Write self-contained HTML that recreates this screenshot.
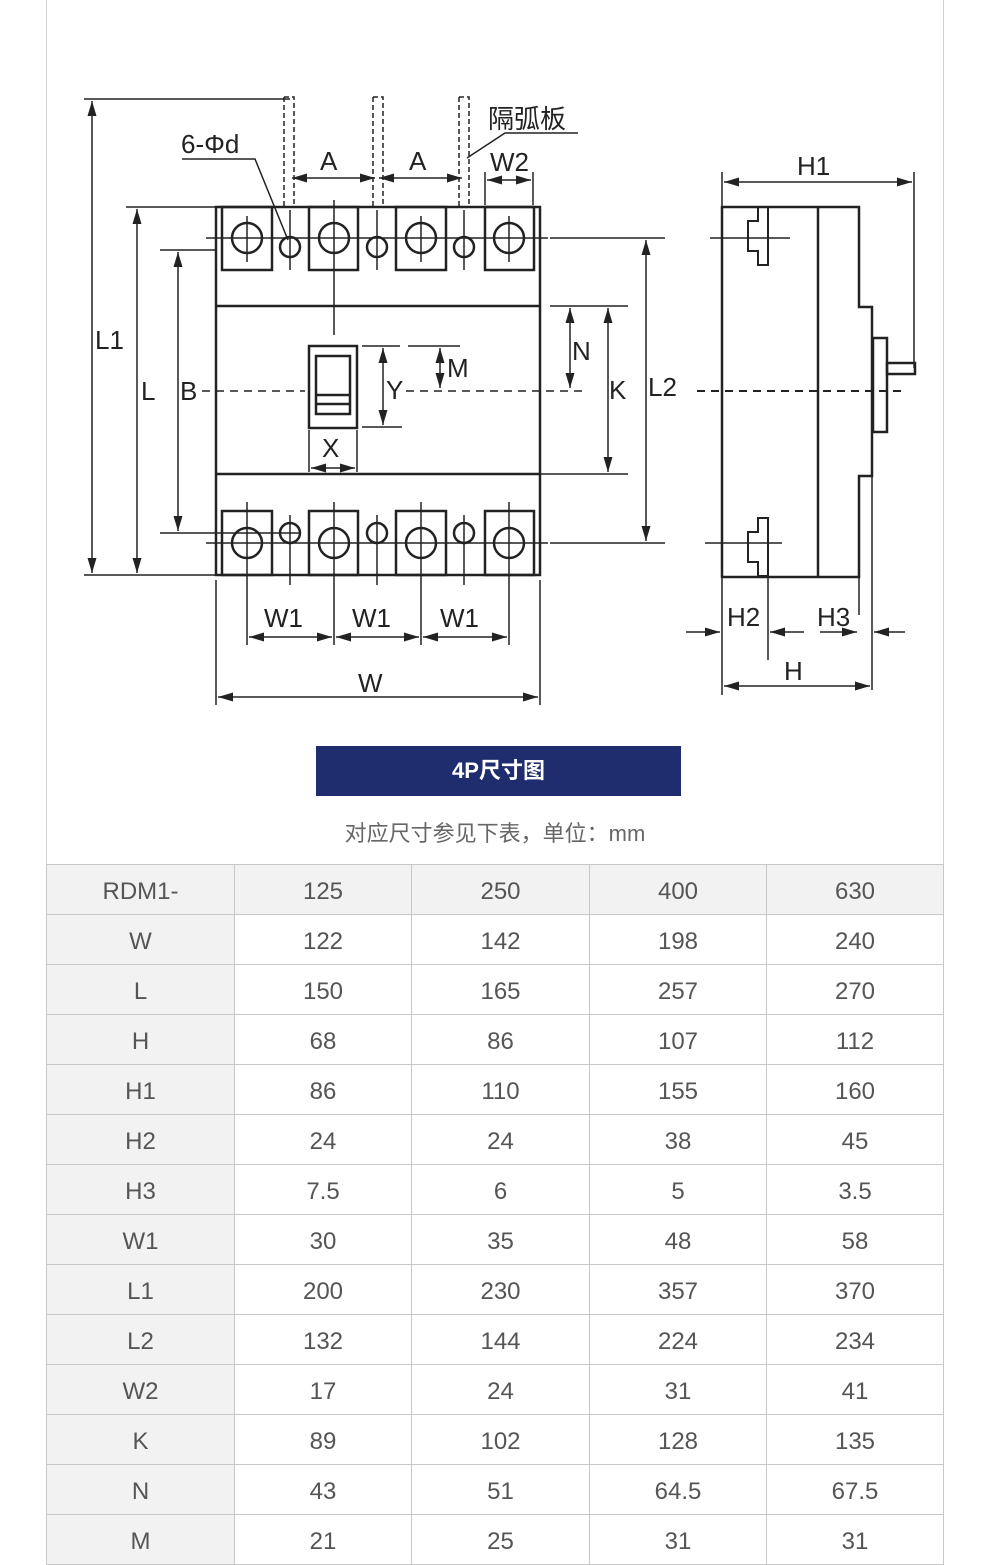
<!DOCTYPE html>
<html><head><meta charset="utf-8"><style>
body{margin:0;width:990px;height:1533px;background:#fff;overflow:hidden;position:relative;font-family:"Liberation Sans","Noto Sans CJK SC",sans-serif}
.vl{position:absolute;top:0;width:1px;height:1533px;background:#d0d0d0}
.btn{position:absolute;left:316px;top:746px;width:365px;height:50px;background:#1f2d6e;color:#fff;font-size:22px;text-align:center;line-height:50px;font-weight:bold}
.sub{position:absolute;left:0;width:990px;top:816px;text-align:center;font-size:22px;color:#666}
table{position:absolute;left:46px;top:864px;border-collapse:collapse;table-layout:fixed}
td{border:1px solid #c8c8c8;height:50px;text-align:center;font-size:24px;color:#555;padding:0;padding-top:4px;box-sizing:border-box}
td:first-child{background:#f2f2f2}
tr:first-child td{background:#f2f2f2}
</style></head><body>
<div class="vl" style="left:46px"></div><div class="vl" style="left:943px"></div>
<svg width="990" height="740" style="position:absolute;left:0;top:0" font-family="Liberation Sans, DejaVu Sans, sans-serif" font-size="26" fill="none" stroke="#222">
<defs><marker id="a" viewBox="0 0 10 6" refX="10" refY="3" markerWidth="10" markerHeight="6" orient="auto-start-reverse"><path d="M0,0L10,3L0,6z" fill="#222" stroke="none"/></marker></defs>
<g stroke-width="2.5">
<rect x="216" y="207" width="324" height="368"/>
<line x1="216" y1="306" x2="540" y2="306"/><line x1="216" y1="474" x2="540" y2="474"/>
<rect x="222" y="207" width="50" height="63"/><rect x="309" y="207" width="49" height="63"/><rect x="396" y="207" width="50" height="63"/><rect x="485" y="207" width="49" height="63"/>
<rect x="222" y="511" width="50" height="64"/><rect x="309" y="511" width="49" height="64"/><rect x="396" y="511" width="50" height="64"/><rect x="485" y="511" width="49" height="64"/>
<circle cx="247" cy="238" r="15"/><circle cx="334" cy="238" r="15"/><circle cx="421" cy="238" r="15"/><circle cx="509" cy="238" r="15"/>
<circle cx="290" cy="247" r="10"/><circle cx="377" cy="247" r="10"/><circle cx="464" cy="247" r="10"/>
<circle cx="247" cy="543" r="15"/><circle cx="334" cy="543" r="15"/><circle cx="421" cy="543" r="15"/><circle cx="509" cy="543" r="15"/>
<circle cx="290" cy="533" r="10"/><circle cx="377" cy="533" r="10"/><circle cx="464" cy="533" r="10"/>
<rect x="309" y="346" width="48" height="82"/><rect x="316" y="356" width="34" height="58"/><line x1="316" y1="395" x2="350" y2="395"/><line x1="316" y1="404" x2="350" y2="404"/>
<path d="M722,207H859V307H872V476H859V577H722Z"/><line x1="818" y1="207" x2="818" y2="577"/>
<rect x="873" y="338" width="14" height="94"/><rect x="887" y="363" width="28" height="11"/>
<path d="M748,221h10v-14h10v58h-10v-14h-10z" stroke-width="2"/><path d="M748,532h10v-14h10v58h-10v-14h-10z" stroke-width="2"/>
</g>
<g stroke-width="1.5">
<line x1="206" y1="238" x2="548" y2="238"/><line x1="206" y1="543" x2="548" y2="543"/>
<line x1="247" y1="216" x2="247" y2="262"/><line x1="334" y1="200" x2="334" y2="335"/><line x1="421" y1="216" x2="421" y2="262"/><line x1="509" y1="216" x2="509" y2="262"/>
<line x1="290" y1="210" x2="290" y2="270"/><line x1="377" y1="210" x2="377" y2="270"/><line x1="464" y1="210" x2="464" y2="270"/>
<line x1="247" y1="502" x2="247" y2="645"/><line x1="334" y1="502" x2="334" y2="645"/><line x1="421" y1="502" x2="421" y2="645"/><line x1="509" y1="502" x2="509" y2="645"/>
<line x1="290" y1="515" x2="290" y2="585"/><line x1="377" y1="515" x2="377" y2="585"/><line x1="464" y1="515" x2="464" y2="585"/>
<line x1="160" y1="533" x2="300" y2="533"/>
<path d="M284,97h10v110M284,97v110M373,97h10v110M373,97v110M459,97h10v110M459,97v110" stroke-dasharray="5,3"/>
<line x1="84" y1="99" x2="290" y2="99"/><line x1="126" y1="207" x2="216" y2="207"/><line x1="160" y1="250" x2="216" y2="250"/>
<line x1="84" y1="575" x2="216" y2="575"/>
<line x1="92" y1="101" x2="92" y2="573" marker-start="url(#a)" marker-end="url(#a)"/>
<line x1="137" y1="209" x2="137" y2="573" marker-start="url(#a)" marker-end="url(#a)"/>
<line x1="178" y1="252" x2="178" y2="531" marker-start="url(#a)" marker-end="url(#a)"/>
<line x1="292" y1="178" x2="375" y2="178" marker-start="url(#a)" marker-end="url(#a)"/>
<line x1="379" y1="178" x2="462" y2="178" marker-start="url(#a)" marker-end="url(#a)"/>
<line x1="485" y1="172" x2="485" y2="205"/><line x1="533" y1="172" x2="533" y2="205"/>
<line x1="487" y1="180" x2="531" y2="180" marker-start="url(#a)" marker-end="url(#a)"/>
<path d="M182,159H255L288,240"/><path d="M467,158L505,133H578"/>
<line x1="550" y1="306" x2="628" y2="306"/><line x1="540" y1="474" x2="628" y2="474"/><line x1="550" y1="238" x2="665" y2="238"/><line x1="550" y1="543" x2="665" y2="543"/>
<line x1="570" y1="308" x2="570" y2="388" marker-start="url(#a)" marker-end="url(#a)"/>
<line x1="608" y1="308" x2="608" y2="472" marker-start="url(#a)" marker-end="url(#a)"/>
<line x1="646" y1="240" x2="646" y2="541" marker-start="url(#a)" marker-end="url(#a)"/>
<line x1="362" y1="346" x2="400" y2="346"/><line x1="408" y1="346" x2="460" y2="346"/><line x1="362" y1="427" x2="402" y2="427"/>
<line x1="383" y1="348" x2="383" y2="425" marker-start="url(#a)" marker-end="url(#a)"/>
<line x1="440" y1="348" x2="440" y2="388" marker-start="url(#a)" marker-end="url(#a)"/>
<line x1="309" y1="430" x2="309" y2="472"/><line x1="357" y1="430" x2="357" y2="472"/>
<line x1="311" y1="468" x2="355" y2="468" marker-start="url(#a)" marker-end="url(#a)"/>
<path d="M202,391H305M406,391H588" stroke-dasharray="8,6"/>
<line x1="216" y1="580" x2="216" y2="705"/><line x1="540" y1="580" x2="540" y2="705"/>
<line x1="249" y1="637" x2="332" y2="637" marker-start="url(#a)" marker-end="url(#a)"/>
<line x1="336" y1="637" x2="419" y2="637" marker-start="url(#a)" marker-end="url(#a)"/>
<line x1="423" y1="637" x2="507" y2="637" marker-start="url(#a)" marker-end="url(#a)"/>
<line x1="218" y1="697" x2="538" y2="697" marker-start="url(#a)" marker-end="url(#a)"/>
<line x1="722" y1="172" x2="722" y2="695"/><line x1="914" y1="172" x2="914" y2="368"/>
<line x1="724" y1="182" x2="912" y2="182" marker-start="url(#a)" marker-end="url(#a)"/>
<path d="M697,391H905" stroke-dasharray="8,6" stroke-width="2"/>
<line x1="710" y1="238" x2="790" y2="238"/><line x1="705" y1="543" x2="782" y2="543"/>
<line x1="768" y1="577" x2="768" y2="660"/><line x1="872" y1="476" x2="872" y2="690"/><line x1="859" y1="577" x2="859" y2="615"/>
<line x1="686" y1="632" x2="720" y2="632" marker-end="url(#a)"/><line x1="804" y1="632" x2="770" y2="632" marker-end="url(#a)"/>
<line x1="820" y1="632" x2="857" y2="632" marker-end="url(#a)"/><line x1="905" y1="632" x2="874" y2="632" marker-end="url(#a)"/>
<line x1="724" y1="686" x2="870" y2="686" marker-start="url(#a)" marker-end="url(#a)"/>
</g>
<g fill="#222" stroke="none">
<text x="181" y="153">6-Φd</text><text x="320" y="170">A</text><text x="409" y="170">A</text><text x="490" y="171">W2</text>
<text x="488" y="128" font-family="Liberation Sans, Noto Sans CJK SC, sans-serif">隔弧板</text>
<text x="95" y="349">L1</text><text x="141" y="400">L</text><text x="180" y="400">B</text>
<text x="386" y="399">Y</text><text x="447" y="377">M</text><text x="322" y="457">X</text>
<text x="572" y="360">N</text><text x="609" y="399">K</text><text x="648" y="396">L2</text>
<text x="264" y="627">W1</text><text x="352" y="627">W1</text><text x="440" y="627">W1</text><text x="358" y="692">W</text>
<text x="797" y="175">H1</text><text x="727" y="626">H2</text><text x="817" y="626">H3</text><text x="784" y="680">H</text>
</g>
</svg>
<div class="btn">4P尺寸图</div>
<div class="sub">对应尺寸参见下表，单位：mm</div>
<table>
<colgroup><col style="width:188px"><col style="width:177px"><col style="width:178px"><col style="width:177px"><col style="width:177px"></colgroup>
<tr><td>RDM1-</td><td>125</td><td>250</td><td>400</td><td>630</td></tr>
<tr><td>W</td><td>122</td><td>142</td><td>198</td><td>240</td></tr>
<tr><td>L</td><td>150</td><td>165</td><td>257</td><td>270</td></tr>
<tr><td>H</td><td>68</td><td>86</td><td>107</td><td>112</td></tr>
<tr><td>H1</td><td>86</td><td>110</td><td>155</td><td>160</td></tr>
<tr><td>H2</td><td>24</td><td>24</td><td>38</td><td>45</td></tr>
<tr><td>H3</td><td>7.5</td><td>6</td><td>5</td><td>3.5</td></tr>
<tr><td>W1</td><td>30</td><td>35</td><td>48</td><td>58</td></tr>
<tr><td>L1</td><td>200</td><td>230</td><td>357</td><td>370</td></tr>
<tr><td>L2</td><td>132</td><td>144</td><td>224</td><td>234</td></tr>
<tr><td>W2</td><td>17</td><td>24</td><td>31</td><td>41</td></tr>
<tr><td>K</td><td>89</td><td>102</td><td>128</td><td>135</td></tr>
<tr><td>N</td><td>43</td><td>51</td><td>64.5</td><td>67.5</td></tr>
<tr><td>M</td><td>21</td><td>25</td><td>31</td><td>31</td></tr>
</table>
</body></html>
